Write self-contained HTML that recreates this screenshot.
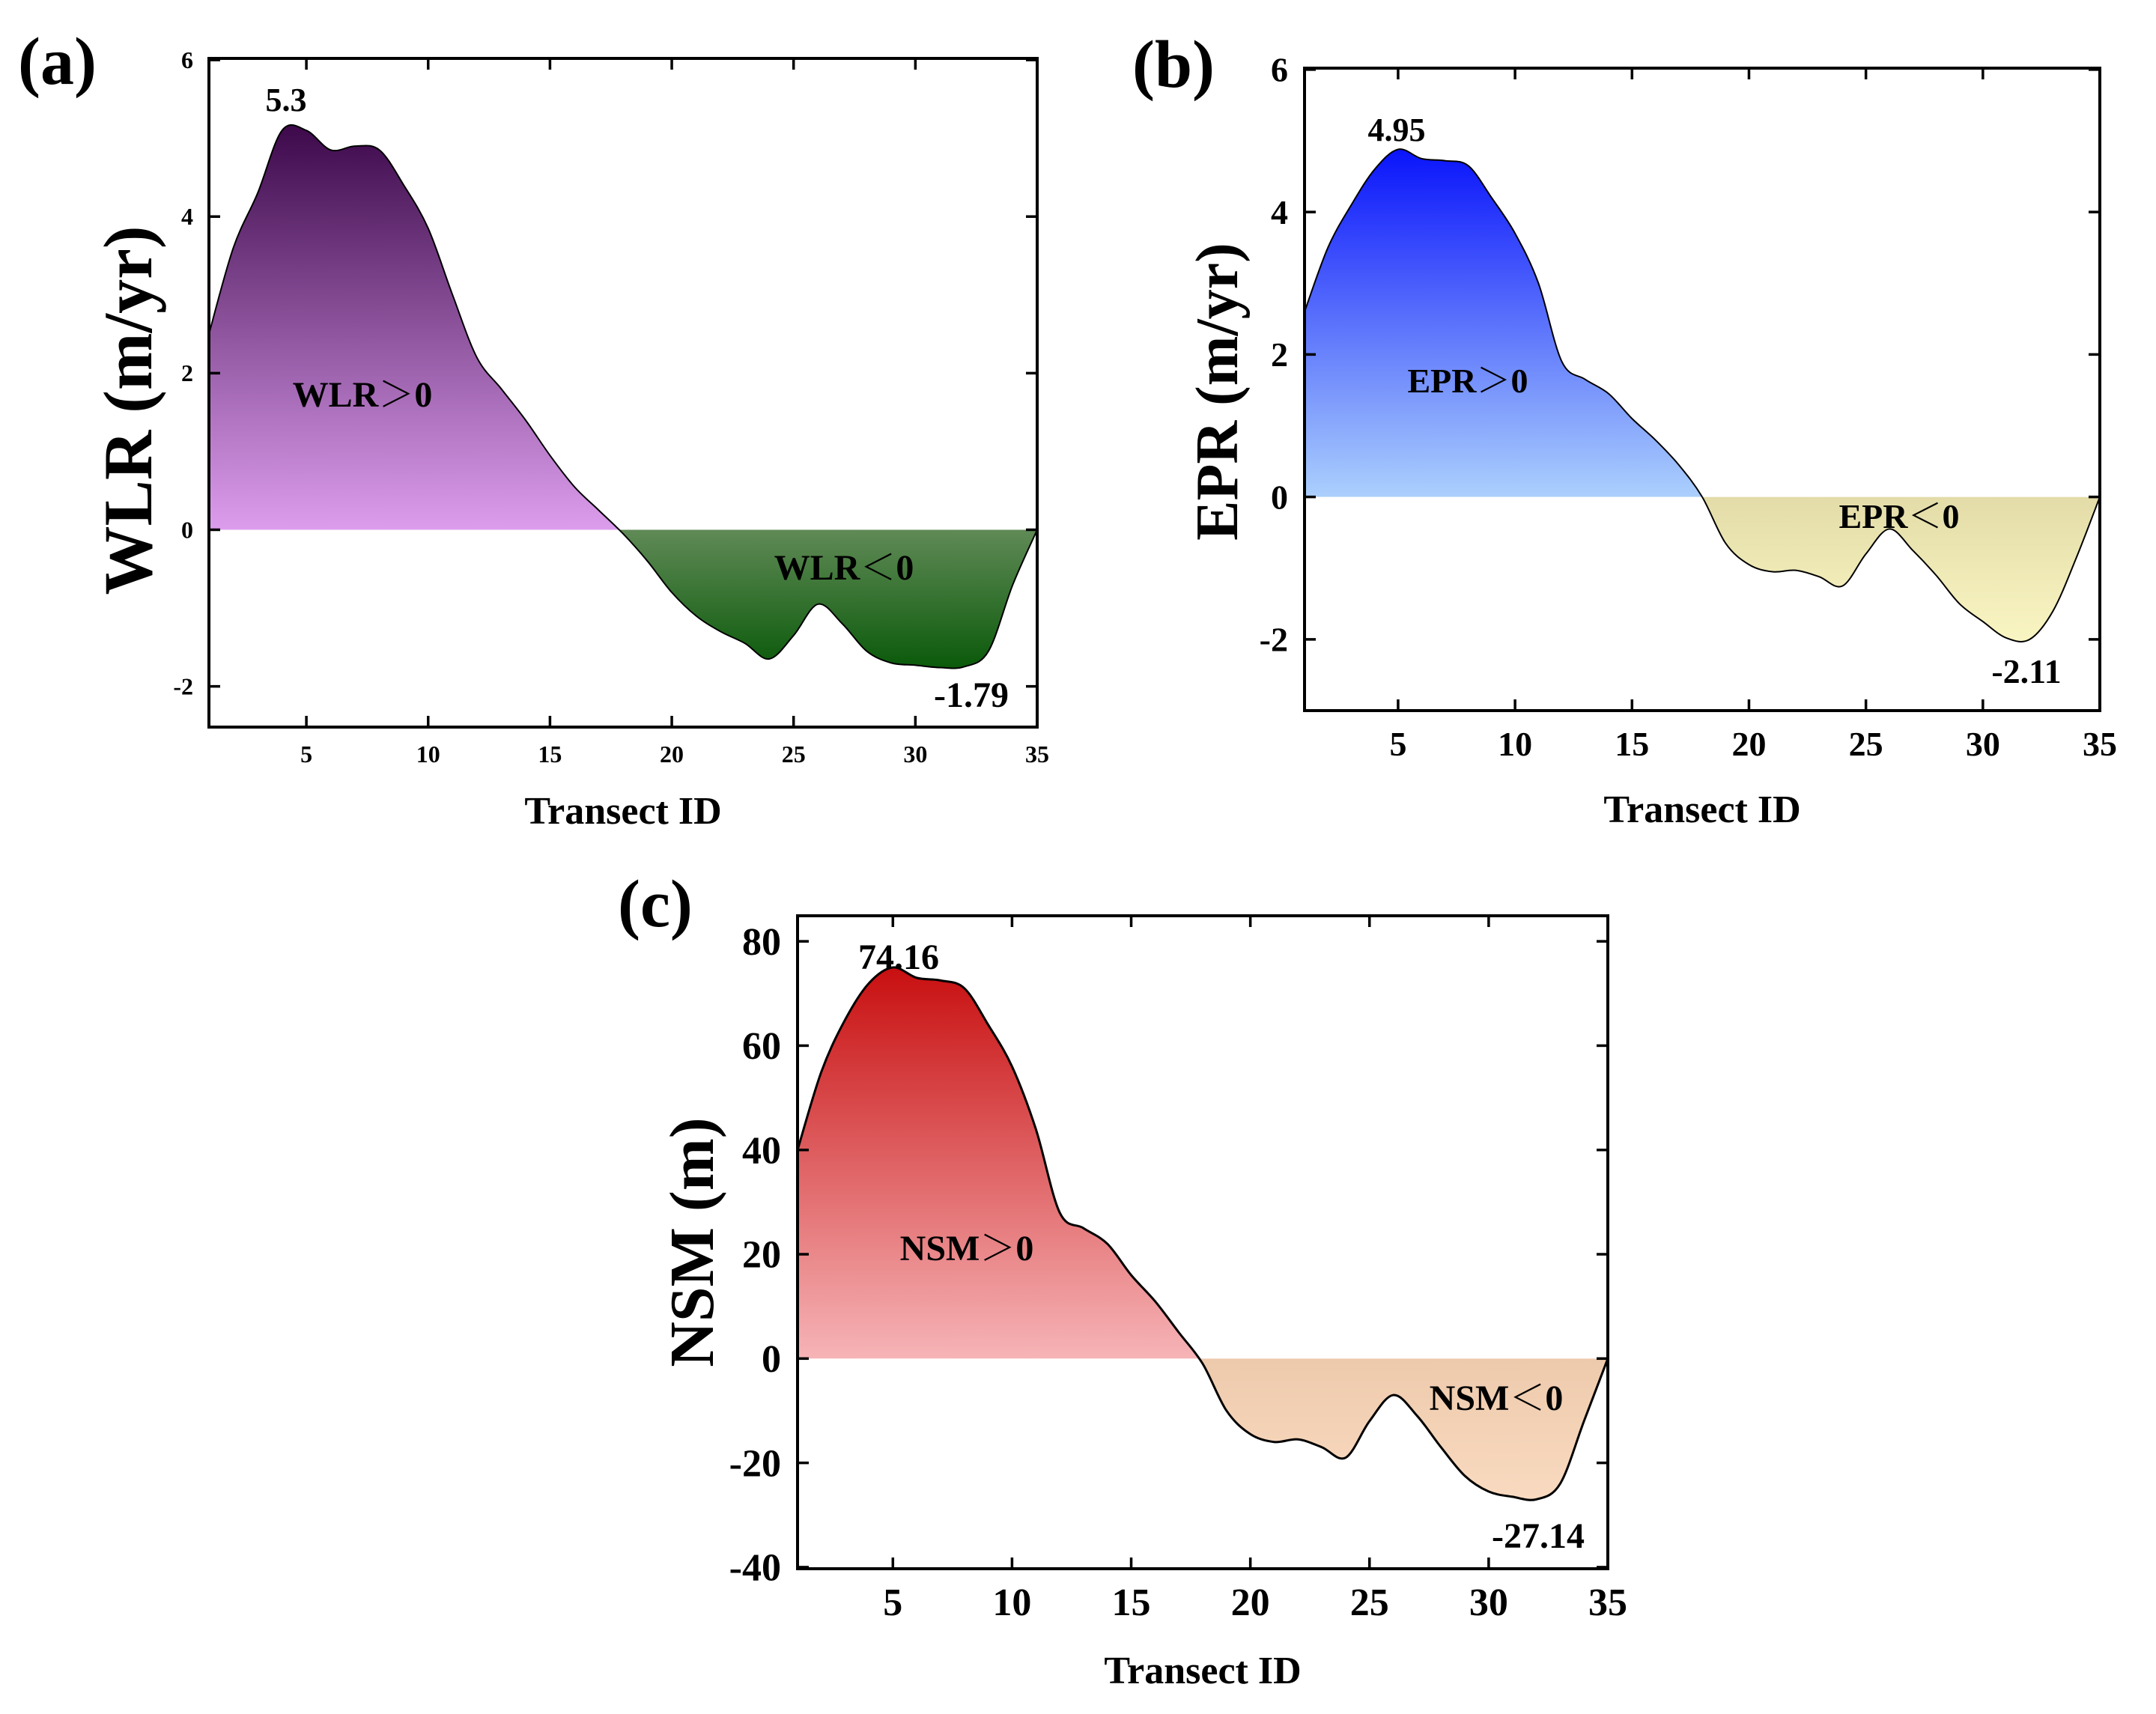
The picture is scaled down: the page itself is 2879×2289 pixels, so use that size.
<!DOCTYPE html>
<html><head><meta charset="utf-8"><style>
html,body{margin:0;padding:0;background:#fff;}
svg text{font-family:"Liberation Serif","Noto Serif CJK SC",serif;font-weight:bold;fill:#000;}
</style></head><body>
<svg id="fig" width="2879" height="2284" viewBox="0 0 2879 2284" xmlns="http://www.w3.org/2000/svg">
<defs id="defs"></defs>
</svg>
<script>
const transectIds = [1,2,3,4,5,6,7,8,9,10,11,12,13,14,15,16,17,18,19,20,21,22,23,24,25,26,27,28,29,30,31,32,33,34,35];
const wlrValues = [2.5,3.6,4.3,5.1,5.1,4.85,4.9,4.85,4.4,3.85,3.0,2.2,1.8,1.4,0.95,0.55,0.25,-0.05,-0.4,-0.8,-1.1,-1.3,-1.45,-1.65,-1.35,-0.95,-1.2,-1.55,-1.7,-1.73,-1.76,-1.75,-1.55,-0.7,0];
const eprValues = [2.6,3.5,4.1,4.6,4.88,4.75,4.72,4.65,4.2,3.7,3.0,1.9,1.65,1.45,1.1,0.8,0.45,0,-0.65,-0.95,-1.05,-1.03,-1.12,-1.25,-0.8,-0.45,-0.75,-1.1,-1.5,-1.75,-1.98,-2.0,-1.6,-0.85,0];
const nsmValues = [40,55,65,72,75,73,72.5,71,64,56,44,28,25,22,16,11,5,-1,-10,-14.5,-16,-15.5,-17,-19,-12,-7,-11,-17,-22.5,-25.5,-26.5,-27,-24,-12,0];
const xTicks = [5,10,15,20,25,30,35];
const wlrYTicks = [-2,0,2,4,6];
const eprYTicks = [-2,0,2,4,6];
const nsmYTicks = [-40,-20,0,20,40,60,80];

const NS='http://www.w3.org/2000/svg';
const svg=document.getElementById('fig');
const defs=document.getElementById('defs');
function mk(tag,attrs,parent){const e=document.createElementNS(NS,tag);for(const k in attrs)e.setAttribute(k,attrs[k]);(parent||svg).appendChild(e);return e;}

function panel(o){
  const g=mk('g',{});
  
  
  const X=v=>o.L+(v-1)/(35-1)*(o.R-o.L);
  const Y=v=>o.B-(v-o.ymin)/(o.ymax-o.ymin)*(o.B-o.T);
  const y0=Y(0);
  const pts=transectIds.map((t,i)=>[X(t),Y(o.vals[i])]);
  let d='M'+pts[0][0]+','+pts[0][1];
  for(let i=0;i<pts.length-1;i++){
    const p0=pts[Math.max(0,i-1)],p1=pts[i],p2=pts[i+1],p3=pts[Math.min(pts.length-1,i+2)];
    const c1=[p1[0]+(p2[0]-p0[0])/6,p1[1]+(p2[1]-p0[1])/6];
    const c2=[p2[0]-(p3[0]-p1[0])/6,p2[1]-(p3[1]-p1[1])/6];
    d+=' C'+c1[0]+','+c1[1]+' '+c2[0]+','+c2[1]+' '+p2[0]+','+p2[1];
  }
  const area=d+' L'+X(35)+','+y0+' L'+X(1)+','+y0+' Z';
  const maxV=Math.max(...o.vals),minV=Math.min(...o.vals);
  const gp=mk('linearGradient',{id:o.id+'gp',gradientUnits:'userSpaceOnUse',x1:0,x2:0,y1:Y(maxV),y2:y0},defs);
  mk('stop',{offset:0,'stop-color':o.pos[0]},gp);mk('stop',{offset:1,'stop-color':o.pos[1]},gp);
  const gn=mk('linearGradient',{id:o.id+'gn',gradientUnits:'userSpaceOnUse',x1:0,x2:0,y1:y0,y2:Y(minV)},defs);
  mk('stop',{offset:0,'stop-color':o.neg[0]},gn);mk('stop',{offset:1,'stop-color':o.neg[1]},gn);
  const cp=mk('clipPath',{id:o.id+'cp'},defs);mk('rect',{x:o.L,y:o.T,width:o.R-o.L,height:y0-o.T},cp);
  const cn=mk('clipPath',{id:o.id+'cn'},defs);mk('rect',{x:o.L,y:y0,width:o.R-o.L,height:o.B-y0},cn);
  const ap=mk('path',{d:area,fill:'url(#'+o.id+'gp)','clip-path':'url(#'+o.id+'cp)'},g);
  
  
  const an=mk('path',{d:area,fill:'url(#'+o.id+'gn)','clip-path':'url(#'+o.id+'cn)'},g);
  
  
  const ln=mk('path',{d:d,fill:'none',stroke:'#000','stroke-width':o.lw},g);
  
  
  const fr=mk('rect',{x:o.L,y:o.T,width:o.R-o.L,height:o.B-o.T,fill:'none',stroke:'#000','stroke-width':4},g);
  
  
  const tl=15;
  xTicks.forEach(t=>{
    const x=X(t);
    mk('line',{x1:x,x2:x,y1:o.B,y2:o.B-tl,stroke:'#000','stroke-width':3.5},g);
    mk('line',{x1:x,x2:x,y1:o.T,y2:o.T+tl,stroke:'#000','stroke-width':3.5},g);
    const tx=mk('text',{x:x,y:o.xlY,'text-anchor':'middle','font-size':o.tf},g);
    tx.textContent=t;
    
    
  });
  o.yt.forEach(t=>{
    const y=Y(t);
    mk('line',{x1:o.L,x2:o.L+tl,y1:y,y2:y,stroke:'#000','stroke-width':3.5},g);
    mk('line',{x1:o.R,x2:o.R-tl,y1:y,y2:y,stroke:'#000','stroke-width':3.5},g);
    const ty=mk('text',{x:o.ylX,y:y+o.tf*0.34,'text-anchor':'end','font-size':o.tf},g);
    ty.textContent=t;
    
    
  });
  const xt=mk('text',{x:(o.L+o.R)/2,y:o.xtY,'text-anchor':'middle','font-size':52},g);
  xt.textContent='Transect ID';
  
  
  const yt=mk('text',{x:0,y:0,'text-anchor':'middle','font-size':o.ytf,transform:'translate('+o.ytX+','+o.ytC+') rotate(-90)'},g);
  yt.textContent=o.ytitle;
  
  
  const pl=mk('text',{x:o.plX,y:o.plY,'font-size':90},g);
  pl.textContent=o.label;
  
  
  o.notes.forEach(n=>{
    const t=mk('text',{x:n[0],y:n[1],'text-anchor':'middle','font-size':n[3]},g);
    t.textContent=n[2];
    
    
  });
}

panel({id:'wlr',L:279,R:1385,T:78,B:971,ymin:-2.52,ymax:6.02,vals:wlrValues,yt:wlrYTicks,
  pos:['#3f0b4d','#dc9ded'],neg:['#608a56','#0b5a0b'],lw:2,tf:32,xlY:1018,ylX:258,xtY:1100,
  ytitle:'WLR (m/yr)',ytf:92,ytX:202,ytC:548,label:'(a)',plX:24,plY:112,
  notes:[[382,148,'5.3',44],[484,543,'WLR＞0',48],[1127,774,'WLR＜0',48],[1297,944,'-1.79',48]]});
panel({id:'epr',L:1742,R:2804,T:91,B:949,ymin:-3,ymax:6.02,vals:eprValues,yt:eprYTicks,
  pos:['#0a14fb','#abd0fd'],neg:['#e3dca8','#f9f5c2'],lw:2,tf:46,xlY:1009,ylX:1720,xtY:1098,
  ytitle:'EPR (m/yr)',ytf:80,ytX:1652,ytC:523,label:'(b)',plX:1512,plY:116,
  notes:[[1865,188,'4.95',44],[1960,524,'EPR＞0',46],[2536,705,'EPR＜0',46],[2706,912,'-2.11',46]]});
panel({id:'nsm',L:1065,R:2147,T:1223,B:2095,ymin:-40.3,ymax:84.9,vals:nsmValues,yt:nsmYTicks,
  pos:['#c80f10','#f6b4b7'],neg:['#eecaac','#f9dac0'],lw:3,tf:52,xlY:2157,ylX:1043,xtY:2248,
  ytitle:'NSM (m)',ytf:84,ytX:952,ytC:1659,label:'(c)',plX:825,plY:1237,
  notes:[[1200,1294,'74.16',48],[1291,1683,'NSM＞0',48],[1998,1883,'NSM＜0',48],[2054,2067,'-27.14',48]]});
</script>
</body></html>
